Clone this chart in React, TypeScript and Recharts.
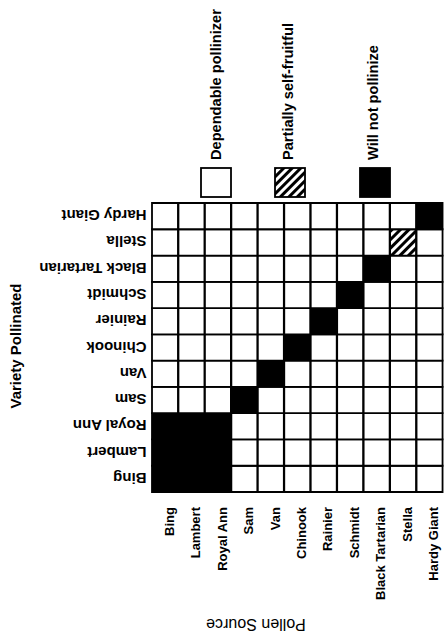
import { BarChart, Bar, XAxis, YAxis, Cell } from 'recharts'

// pollen source varieties, left to right
const sources = [
  'Bing',
  'Lambert',
  'Royal Ann',
  'Sam',
  'Van',
  'Chinook',
  'Rainier',
  'Schmidt',
  'Black Tartarian',
  'Stella',
  'Hardy Giant',
]

// pollinated varieties, bottom to top
const varieties = [
  'Bing',
  'Lambert',
  'Royal Ann',
  'Sam',
  'Van',
  'Chinook',
  'Rainier',
  'Schmidt',
  'Black Tartarian',
  'Stella',
  'Hardy Giant',
]

// one string per pollinated variety, one letter per pollen source
// W = dependable pollinizer, H = partially self-fruitful, B = will not pollinize
const compat = [
  'BBBWWWWWWWW',
  'BBBWWWWWWWW',
  'BBBWWWWWWWW',
  'WWWBWWWWWWW',
  'WWWWBWWWWWW',
  'WWWWWBWWWWW',
  'WWWWWWBWWWW',
  'WWWWWWWBWWW',
  'WWWWWWWWBWW',
  'WWWWWWWWWHW',
  'WWWWWWWWWWB',
]

const yTicks = [0.5, 1.5, 2.5, 3.5, 4.5, 5.5, 6.5, 7.5, 8.5, 9.5, 10.5]

const legendItems = [
  { label: 'Dependable pollinizer', fill: '#fff', boxX: 201, textX: 221 },
  { label: 'Partially self-fruitful', fill: 'url(#hatch)', boxX: 275, textX: 293 },
  { label: 'Will not pollinize', fill: '#000', boxX: 360, textX: 378 },
]

const FONT = '"Liberation Sans", Arial, Helvetica, sans-serif'
const PLOT_TOP = 203
const XAXIS_H = 148
const PLOT_BOTTOM = 640 - XAXIS_H

const fillFor = (code: string) =>
  code === 'B' ? '#000' : code === 'H' ? 'url(#hatch)' : '#fff'

// each grid cell is one stacked unit
const data = sources.map((source) => {
  const row: Record<string, string | number> = { source }
  varieties.forEach((_, i) => {
    row['v' + i] = 1
  })
  return row
})

function XTick(props: any) {
  const { x, payload } = props
  const bx = x + 8.5
  const by = PLOT_BOTTOM + 15
  return (
    <text
      x={bx}
      y={by}
      transform={`rotate(-90, ${bx}, ${by})`}
      textAnchor="end"
      fontFamily={FONT}
      fontWeight="bold"
      fontSize={13}
      fill="#000"
    >
      {payload.value}
    </text>
  )
}

function YTick(props: any) {
  const { x, y, payload } = props
  const name = varieties[Math.floor(payload.value)]
  const bx = x + 2.5
  const by = y - 6
  return (
    <text
      x={bx}
      y={by}
      transform={`rotate(180, ${bx}, ${by})`}
      textAnchor="start"
      fontFamily={FONT}
      fontWeight="bold"
      fontSize={15}
      fill="#000"
    >
      {name}
    </text>
  )
}

export default function App() {
  return (
    <div
      style={{
        position: 'absolute',
        left: 0,
        top: 0,
        width: 446,
        height: 640,
        overflow: 'hidden',
        background: '#fff',
      }}
    >
      <BarChart
        width={446}
        height={640}
        data={data}
        margin={{ top: PLOT_TOP, right: 3, left: 0, bottom: 0 }}
        barCategoryGap={0}
        barGap={0}
      >
        <XAxis
          dataKey="source"
          type="category"
          interval={0}
          height={XAXIS_H}
          axisLine={false}
          tickLine={false}
          tick={<XTick />}
        />
        <YAxis
          type="number"
          domain={[0, 11]}
          ticks={yTicks}
          interval={0}
          width={152}
          axisLine={false}
          tickLine={false}
          tick={<YTick />}
        />
        {varieties.map((v, i) => (
          <Bar
            key={v}
            dataKey={'v' + i}
            stackId="grid"
            isAnimationActive={false}
            stroke="#000"
            strokeWidth={1.8}
          >
            {sources.map((s, j) => (
              <Cell key={s} fill={fillFor(compat[i][j])} />
            ))}
          </Bar>
        ))}
      </BarChart>
      <svg
        width={446}
        height={640}
        style={{ position: 'absolute', left: 0, top: 0, pointerEvents: 'none' }}
      >
        <defs>
          <pattern
            id="hatch"
            patternUnits="userSpaceOnUse"
            width={6}
            height={6}
            patternTransform="rotate(45)"
          >
            <rect x={0} y={0} width={6} height={6} fill="#fff" />
            <rect x={0} y={0} width={3} height={6} fill="#000" />
          </pattern>
        </defs>
        {legendItems.map((item) => (
          <g key={item.label}>
            <rect
              x={item.boxX}
              y={168}
              width={30}
              height={29}
              fill={item.fill}
              stroke="#000"
              strokeWidth={1.8}
            />
            <text
              x={item.textX}
              y={160}
              transform={`rotate(-90, ${item.textX}, 160)`}
              textAnchor="start"
              fontFamily={FONT}
              fontWeight="bold"
              fontSize={14.6}
              fill="#000"
            >
              {item.label}
            </text>
          </g>
        ))}
        <text
          x={21}
          y={346}
          transform="rotate(-90, 21, 346)"
          textAnchor="middle"
          fontFamily={FONT}
          fontWeight="bold"
          fontSize={15}
          fill="#000"
        >
          Variety Pollinated
        </text>
        <text
          x={256}
          y={618.5}
          transform="rotate(180, 256, 618.5)"
          textAnchor="middle"
          fontFamily={FONT}
          fontSize={16}
          fill="#000"
        >
          Pollen Source
        </text>
      </svg>
    </div>
  )
}
